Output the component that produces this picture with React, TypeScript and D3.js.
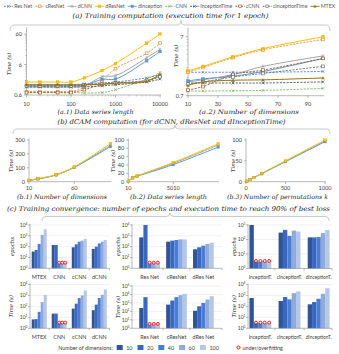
import React, { useEffect, useRef } from 'react';
import * as d3 from 'd3';

// ---------------- data ----------------
const seriesNames = ['ResNet', 'cResNet', 'dCNN', 'dResNet', 'dInception', 'CNN', 'InceptionTime', 'cCNN', 'cInceptionTime', 'MTEX'];
const legendLabels = ['Res Net', 'cResNet', 'dCNN', 'dResNet', 'dInception', 'CNN', 'InceptionTime', 'cCNN', 'cInceptionTime', 'MTEX'];

// (a.1) time per epoch vs data series length
const a1Lengths = [10, 20, 50, 100, 200, 500, 1000, 5000, 10000];
const a1ResNet = [1.3, 1.3, 1.3, 1.3, 1.4, 1.5, 1.6, 2.2, 2.8];
const a1cResNet = [0.77, 0.77, 0.77, 0.78, 1.05, 1.8, 4.4, 14, 30];
const a1dCNN = [1.1, 1.1, 1.1, 1.1, 1.2, 2.4, 2.6, 10, 19];
const a1dResNet = [1.6, 1.6, 1.6, 1.6, 2.2, 3.8, 6.5, 30, 60];
const a1dInception = [1.2, 1.2, 1.2, 1.2, 1.25, 1.95, 2.0, 8, 16];
const a1CNN = [0.75, 0.75, 0.75, 0.74, 0.7, 0.72, 0.9, 2.0, 3.3];
const a1InceptionTime = [1.1, 1.1, 1.1, 1.1, 1.1, 1.2, 1.3, 1.6, 2.0];
const a1cCNN = [0.72, 0.72, 0.72, 0.72, 0.9, 1.3, 1.5, 1.7, 2.5];
const a1cInceptionTime = [1.2, 1.2, 1.2, 1.2, 1.3, 1.4, 1.5, 1.8, 2.4];
const a1MTEX = [1.3, 1.3, 1.3, 1.3, 1.3, 1.35, 1.45, 1.7, 2.9];

// (a.2) time per epoch vs number of dimensions
const a2Dims = [10, 20, 40, 60, 100];
const a2ResNet = [1.75, 1.75, 1.75, 1.75, 1.8];
const a2cResNet = [1.75, 2.1, 3.1, 4.2, 6.3];
const a2dCNN = [1.2, 1.3, 1.6, 2.2, 3.3];
const a2dResNet = [1.85, 2.2, 3.2, 4.4, 7.0];
const a2dInception = [1.25, 1.35, 1.5, 1.8, 3.0];
const a2CNN = [0.84, 0.84, 0.85, 0.86, 0.93];
const a2InceptionTime = [1.15, 1.15, 1.15, 1.15, 1.2];
const a2cCNN = [0.87, 1.0, 1.6, 1.9, 3.0];
const a2cInceptionTime = [1.1, 1.2, 1.45, 1.67, 2.2];
const a2MTEX = [1.05, 1.2, 1.28, 1.3, 1.4];

// (b) dCAM computation
const b1Dims = [10, 20, 40, 60, 100];
const b1dCNN = [10, 21, 50, 105, 262];
const b1dResNet = [10, 22, 50, 107, 275];
const b1dInception = [9, 20, 48, 103, 253];
const b2Lengths = [10, 500, 1000, 5000, 10000];
const b2dCNN = [1, 10, 14, 44, 88];
const b2dResNet = [1, 10, 14, 46, 91];
const b2dInception = [1, 9, 13, 41, 83];
const b3Perms = [10, 50, 100, 200, 500, 1000];
const b3dCNN = [1, 5, 10, 20, 49, 98];
const b3dResNet = [1, 5, 10, 20, 50, 100];
const b3dInception = [1, 5, 10, 19, 48, 96];

// (c) convergence
const dimLabels = ['10', '20', '40', '60', '100'];
const c1Cats = ['MTEX', 'CNN', 'cCNN', 'dCNN'];
const c2Cats = ['Res Net', 'cResNet', 'dRes Net'];
const c3Cats = ['InceptionT.', 'cInceptionT.', 'dInceptionT.'];

const epMTEX = [35, 49, 177, 1200, 4000];
const epCNN = [142, 142, 3, 3, 3];
const epcCNN = [87, 164, 290, 360, 510];
const epdCNN = [61, 100, 200, 290, 410];
const epResNet = [720, 10000, 3, 3, 3];
const epcResNet = [290, 360, 410, 470, 470];
const epdResNet = [57, 87, 123, 177, 234];
const epInception = [1000, 3, 3, 3, 3];
const epcInception = [300, 460, 180, 415, 355];
const epdInception = [140, 140, 147, 275, 460];

const tMTEX = [6.5, 7, 32, 250, 1150];
const tCNN = [22, 22, 3, 3, 3];
const tcCNN = [63, 178, 580, 1000, 2800];
const tdCNN = [45, 145, 580, 1150, 3500];
const tResNet = [250, 4800, 3, 3, 3];
const tcResNet = [630, 1900, 4800, 8300, 12000];
const tdResNet = [120, 400, 1000, 2500, 6300];
const tInception = [580, 3, 3, 3, 3];
const tcInception = [310, 710, 440, 1620, 2300];
const tdInception = [155, 250, 500, 1400, 4600];

const underNone = [0, 0, 0, 0, 0];
const underCNN = [0, 0, 1, 1, 1];
const underResNet = [0, 0, 1, 1, 1];
const underInception = [0, 1, 1, 1, 1];

// ---------------- styles ----------------
const STYLE: Record<string, { color: string; dash: boolean; marker: string }> = {
  ResNet: { color: '#4472C4', dash: true, marker: 'x' },
  cResNet: { color: '#ED7D31', dash: true, marker: 'sqo' },
  dCNN: { color: '#A5A5A5', dash: false, marker: 'star' },
  dResNet: { color: '#FFC000', dash: false, marker: 'sq' },
  dInception: { color: '#5B9BD5', dash: false, marker: 'sq' },
  CNN: { color: '#70AD47', dash: true, marker: 'x' },
  InceptionTime: { color: '#264478', dash: true, marker: 'x' },
  cCNN: { color: '#9E480E', dash: true, marker: 'sqo' },
  cInceptionTime: { color: '#636363', dash: true, marker: 'sqo' },
  MTEX: { color: '#997300', dash: false, marker: 'tri' },
};
const BAR_COLORS = ['#2F5597', '#3A68BE', '#4A7ED6', '#8FAADC', '#B4C7E7'];
const SANS = 'Lato, "Open Sans", sans-serif';
const SERIF = '"DejaVu Serif", serif';
const AX = '#8C8C8C';
const TXT = '#404040';
const FS = 5.6;

type Sel = d3.Selection<SVGGElement, unknown, null, undefined>;

function marker(g: Sel, kind: string, x: number, y: number, color: string, s = 1.4) {
  if (kind === 'x' || kind === 'star') {
    let d = `M${x - s},${y - s}L${x + s},${y + s}M${x - s},${y + s}L${x + s},${y - s}`;
    if (kind === 'star') d += `M${x},${y - s * 1.2}L${x},${y + s * 1.2}`;
    g.append('path').attr('d', d).attr('stroke', color).attr('stroke-width', 0.6).attr('fill', 'none');
  } else if (kind === 'sq') {
    g.append('rect').attr('x', x - s).attr('y', y - s).attr('width', 2 * s).attr('height', 2 * s)
      .attr('fill', color).attr('stroke', d3.color(color)!.darker(0.4).toString()).attr('stroke-width', 0.3);
  } else if (kind === 'sqo') {
    g.append('rect').attr('x', x - s).attr('y', y - s).attr('width', 2 * s).attr('height', 2 * s)
      .attr('fill', '#fff').attr('stroke', color).attr('stroke-width', 0.6);
  } else {
    g.append('path').attr('d', `M${x},${y - s * 1.2}L${x + s * 1.2},${y + s}L${x - s * 1.2},${y + s}Z`).attr('fill', color);
  }
}

function line(g: Sel, x0: number, y0: number, x1: number, y1: number, color = AX, w = 0.6) {
  g.append('line').attr('x1', x0).attr('y1', y0).attr('x2', x1).attr('y2', y1).attr('stroke', color).attr('stroke-width', w);
}

function txt(g: Sel, x: number, y: number, s: string, anchor = 'middle', size = FS) {
  return g.append('text').attr('x', x).attr('y', y).attr('text-anchor', anchor).attr('font-family', SANS)
    .attr('font-size', size).attr('fill', TXT).text(s);
}

function itext(g: Sel, x: number, y: number, s: string, size: number, len?: number, rot = false) {
  const t = g.append('text').attr('font-family', SERIF).attr('font-style', 'italic').attr('font-size', size)
    .attr('fill', '#262626').attr('text-anchor', 'middle').text(s);
  if (rot) t.attr('transform', `translate(${x},${y}) rotate(-90)`);
  else t.attr('x', x).attr('y', y);
  if (len) t.attr('textLength', len).attr('lengthAdjust', 'spacingAndGlyphs');
  return t;
}

function powText(g: Sel, x: number, y: number, e: number, size = 5) {
  const t = g.append('text').attr('x', x).attr('y', y).attr('text-anchor', 'end').attr('font-family', SANS)
    .attr('font-size', size).attr('fill', TXT);
  t.append('tspan').text('10');
  t.append('tspan').attr('dy', -2).attr('font-size', size * 0.65).text(String(e));
}

function brace(g: Sel, x0: number, x1: number, xm: number, yTop: number, yMid: number, yBot: number) {
  const r = 4;
  const d = `M${x0},${yBot} Q${x0},${yMid} ${x0 + r},${yMid} L${xm - r},${yMid} Q${xm},${yMid} ${xm},${yTop} ` +
    `Q${xm},${yMid} ${xm + r},${yMid} L${x1 - r},${yMid} Q${x1},${yMid} ${x1},${yBot}`;
  g.append('path').attr('d', d).attr('fill', 'none').attr('stroke', '#A6A6A6').attr('stroke-width', 0.6);
}

function drawSeries(g: Sel, xs: number[], map: Record<string, number[]>, names: string[],
  xS: (v: number) => number, yS: (v: number) => number, ms = 1.4) {
  const gen = d3.line<number>().x((_, i) => xS(xs[i])).y(d => yS(d)).curve(d3.curveCatmullRom.alpha(0.5));
  names.forEach(n => {
    const st = STYLE[n];
    g.append('path').attr('d', gen(map[n])).attr('fill', 'none').attr('stroke', st.color)
      .attr('stroke-width', st.dash ? 0.8 : 1).attr('stroke-dasharray', st.dash ? '2.2,1.2' : null);
  });
  names.forEach(n => {
    const st = STYLE[n];
    map[n].forEach((v, i) => marker(g, st.marker, xS(xs[i]), yS(v), st.color, ms));
  });
}

function logMinor(lo: number, hi: number, bases: number[]) {
  const out: number[] = [];
  bases.forEach(b => { for (let k = 2; k <= 9; k++) { const v = b * k; if (v > lo && v < hi) out.push(v); } });
  return out;
}

function barPanel(g: Sel, cats: string[], vals: number[][], under: number[][], xr: [number, number],
  padIn: number, padOut: number, maxExp: number, yr: [number, number], labelY: number,
  title: string, titleX: number, labelSize = 5.4) {
  const x = d3.scaleBand<string>().domain(cats).range(xr).paddingInner(padIn).paddingOuter(padOut);
  const sub = d3.scaleBand<string>().domain(dimLabels).range([0, x.bandwidth()]);
  const y = d3.scaleLog().domain([1, Math.pow(10, maxExp)]).range(yr);
  const right = xr[1] + 1;
  for (let e = 1; e <= maxExp; e++) line(g, xr[0], y(Math.pow(10, e)), right, y(Math.pow(10, e)), '#E3E3E3', 0.5);
  for (let e = 0; e <= maxExp; e++) {
    line(g, xr[0] - 2, y(Math.pow(10, e)), xr[0], y(Math.pow(10, e)));
    powText(g, xr[0] - 2.5, y(Math.pow(10, e)) + 1.8, e);
  }
  cats.forEach((c, ci) => {
    vals[ci].forEach((v, di) => {
      const bx = x(c)! + sub(dimLabels[di])!;
      g.append('rect').attr('x', bx).attr('y', y(v)).attr('width', sub.bandwidth())
        .attr('height', yr[0] - y(v)).attr('fill', BAR_COLORS[di]);
    });
    txt(g, x(c)! + x.bandwidth() / 2, labelY, c, 'middle', labelSize);
  });
  cats.forEach((c, ci) => {
    under[ci].forEach((u, di) => {
      if (!u) return;
      const cx = x(c)! + sub(dimLabels[di])! + sub.bandwidth() / 2;
      g.append('circle').attr('cx', cx).attr('cy', y(vals[ci][di] * 1.1)).attr('r', 1.5)
        .attr('fill', '#FBE3E3').attr('stroke', '#E00000').attr('stroke-width', 0.8);
    });
  });
  line(g, xr[0], yr[0], right, yr[0]);
  line(g, xr[0], yr[0], xr[0], yr[1] - 1);
  const step = x.step();
  cats.forEach((c, ci) => {
    if (ci === 0) return;
    const bx = x(c)! - step * padIn / 2;
    line(g, bx, yr[0], bx, yr[0] + 2);
  });
  line(g, right, yr[0], right, yr[0] + 2);
  itext(g, titleX, (yr[0] + yr[1]) / 2, title, 5.4, undefined, true);
}

export default function App() {
  const ref = useRef<SVGSVGElement>(null);
  useEffect(() => {
    const svg = d3.select(ref.current!);
    svg.selectAll('*').remove();
    const g = svg.append('g') as unknown as Sel;

    // ---------- top legend ----------
    const lg = g.append('g');
    const lfs = 5.2;
    const widths: number[] = [];
    const texts = legendLabels.map(l => {
      const t = lg.append('text').attr('font-family', SANS).attr('font-size', lfs).attr('fill', '#595959').attr('y', 8).text(l);
      widths.push((t.node() as SVGTextElement).getComputedTextLength());
      return t;
    });
    const segW = 9, segGap = 1.2;
    const total = widths.reduce((a, b) => a + b, 0) + seriesNames.length * (segW + segGap);
    const gap = (331 - total) / (seriesNames.length - 1);
    let cx = 4;
    seriesNames.forEach((n, i) => {
      const st = STYLE[n];
      lg.append('line').attr('x1', cx).attr('x2', cx + segW).attr('y1', 6.3).attr('y2', 6.3).attr('stroke', st.color)
        .attr('stroke-width', 0.9).attr('stroke-dasharray', st.dash ? '1.8,1' : null);
      marker(lg as unknown as Sel, st.marker, cx + segW / 2, 6.3, st.color, 1.3);
      texts[i].attr('x', cx + segW + segGap);
      cx += segW + segGap + widths[i] + gap;
    });

    // ---------- (a) ----------
    itext(g, 170.5, 17.5, '(a) Training computation (execution time for 1 epoch)', 6.6, 196);
    brace(g, 10, 330, 181, 20.5, 25, 31);

    // a.1
    const a1Map: Record<string, number[]> = {
      ResNet: a1ResNet, cResNet: a1cResNet, dCNN: a1dCNN, dResNet: a1dResNet, dInception: a1dInception,
      CNN: a1CNN, InceptionTime: a1InceptionTime, cCNN: a1cCNN, cInceptionTime: a1cInceptionTime, MTEX: a1MTEX,
    };
    const a1x = d3.scaleLog().domain([10, 10000]).range([26.5, 160]);
    const a1y = d3.scaleLog().domain([0.6, 100]).range([95, 27.3]);
    line(g, 26.5, 27.3, 26.5, 95);
    line(g, 26.5, 95, 161, 95);
    [0.6, 6, 60].forEach(v => { line(g, 24, a1y(v), 26.5, a1y(v)); txt(g, 22, a1y(v) + 2, String(v), 'end'); });
    logMinor(0.6, 100, [0.6, 6, 60]).forEach(v => line(g, 25, a1y(v), 26.5, a1y(v), AX, 0.4));
    [10, 100, 1000, 10000].forEach(v => { line(g, a1x(v), 95, a1x(v), 97.5); txt(g, a1x(v), 105.5, String(v)); });
    logMinor(10, 10000, [10, 100, 1000]).forEach(v => line(g, a1x(v), 95, a1x(v), 96.5, AX, 0.4));
    drawSeries(g, a1Lengths, a1Map, seriesNames, a1x, a1y);
    itext(g, 11, 64, 'Time (s)', 5.4, undefined, true);
    itext(g, 95.5, 113.5, '(a.1) Data series length', 6.2, 76);

    // a.2
    const a2Map: Record<string, number[]> = {
      ResNet: a2ResNet, cResNet: a2cResNet, dCNN: a2dCNN, dResNet: a2dResNet, dInception: a2dInception,
      CNN: a2CNN, InceptionTime: a2InceptionTime, cCNN: a2cCNN, cInceptionTime: a2cInceptionTime, MTEX: a2MTEX,
    };
    const a2x = d3.scaleLinear().domain([10, 100]).range([188, 323]);
    const a2y = d3.scaleLog().domain([0.7, 10]).range([95.7, 27.6]);
    line(g, 188, 27.6, 188, 95.7);
    line(g, 188, 95.7, 324, 95.7);
    [0.7, 7].forEach(v => { line(g, 185.5, a2y(v), 188, a2y(v)); txt(g, 183.5, a2y(v) + 2, String(v), 'end'); });
    logMinor(0.7, 10, [0.7, 7]).forEach(v => line(g, 186.5, a2y(v), 188, a2y(v), AX, 0.4));
    [10, 30, 50, 70, 90].forEach(v => { line(g, a2x(v), 95.7, a2x(v), 98); txt(g, a2x(v), 105.5, String(v)); });
    drawSeries(g, a2Dims, a2Map, seriesNames, a2x, a2y);
    itext(g, 178, 56, 'Time (s)', 5.4, undefined, true);
    itext(g, 249, 113.5, '(a.2) Number of dimensions', 6.2, 100);

    // ---------- (b) ----------
    itext(g, 171.5, 123.5, '(b) dCAM computation (for dCNN, dResNet and dInceptionTime)', 6.6, 228);
    brace(g, 13, 330, 175, 125, 129, 134);

    const bPanel = (xs: number[], map: Record<string, number[]>, xd: [number, number], xr: [number, number],
      ymax: number, yTicks: number[], xTicks: number[], tX: number, label: string, labX: number, labW: number) => {
      const xS = d3.scaleLinear().domain(xd).range(xr);
      const yS = d3.scaleLinear().domain([0, ymax]).range([181.7, 140]);
      line(g, xr[0], 138.5, xr[0], 181.7);
      line(g, xr[0], 181.7, xr[1] + 1, 181.7);
      yTicks.forEach(v => { line(g, xr[0] - 2, yS(v), xr[0], yS(v)); txt(g, xr[0] - 4, yS(v) + 2, String(v), 'end'); });
      xTicks.forEach(v => { line(g, xS(v), 181.7, xS(v), 184); txt(g, xS(v), 190, String(v)); });
      drawSeries(g, xs, map, ['dCNN', 'dInception', 'dResNet'], xS, yS, 1.3);
      itext(g, tX, 161, 'Time (s)', 5.4, undefined, true);
      itext(g, labX, 198.5, label, 6.2, labW);
    };
    bPanel(b1Dims, { dCNN: b1dCNN, dResNet: b1dResNet, dInception: b1dInception }, [10, 100], [29, 110.5], 300,
      [0, 100, 200, 300], [10, 60], 12.5, '(b.1) Number of dimensions', 62, 90);
    bPanel(b2Lengths, { dCNN: b2dCNN, dResNet: b2dResNet, dInception: b2dInception }, [10, 10000], [128.3, 218.2], 100,
      [0, 20, 40, 60, 80, 100], [10, 5010], 114.5, '(b.2) Data series length', 168.5, 77);
    bPanel(b3Perms, { dCNN: b3dCNN, dResNet: b3dResNet, dInception: b3dInception }, [0, 1000], [246, 325], 100,
      [0, 50, 100], [0, 500, 1000], 234.5, '(b.3) Number of permutations k', 277.5, 101);

    // ---------- (c) ----------
    itext(g, 168.5, 211, '(c) Training convergence: number of epochs and execution time to reach 90% of best loss', 6.6, 323);
    brace(g, 42, 329, 170, 213, 216.5, 221);

    barPanel(g, c1Cats, [epMTEX, epCNN, epcCNN, epdCNN], [underNone, underCNN, underNone, underNone],
      [30, 108.5], 0.25, 0.085, 4, [268.3, 225], 278.5, 'epochs', 13.5);
    barPanel(g, c2Cats, [epResNet, epcResNet, epdResNet], [underResNet, underNone, underNone],
      [132, 221], 0.23, 0.27, 4, [268.3, 225], 278.5, 'epochs', 119.5);
    barPanel(g, c3Cats, [epInception, epcInception, epdInception], [underInception, underNone, underNone],
      [248, 331], 0.25, 0.05, 3, [268.5, 225], 278.5, 'epochs', 236, 4.9);

    barPanel(g, c1Cats, [tMTEX, tCNN, tcCNN, tdCNN], [underNone, underCNN, underNone, underNone],
      [30, 108.5], 0.25, 0.085, 4, [328.3, 284.5], 338.5, 'Time (s)', 12.5);
    barPanel(g, c2Cats, [tResNet, tcResNet, tdResNet], [underResNet, underNone, underNone],
      [132, 221], 0.23, 0.27, 5, [328.3, 286], 338.5, 'Time (s)', 119.5);
    barPanel(g, c3Cats, [tInception, tcInception, tdInception], [underInception, underNone, underNone],
      [248, 331], 0.25, 0.05, 4, [328.3, 284.5], 338.5, 'Time (s)', 236, 4.9);

    // bottom legend
    txt(g, 113, 349.5, 'Number of dimensions:', 'end', 5.4);
    dimLabels.forEach((d, i) => {
      const lx = 116.7 + i * 20.8;
      g.append('rect').attr('x', lx).attr('y', 345).attr('width', 6).attr('height', 5).attr('fill', BAR_COLORS[i]);
      txt(g, lx + 9.5, 349.5, d, 'start', 5.4);
    });
    g.append('circle').attr('cx', 238.5).attr('cy', 347.5).attr('r', 1.6).attr('fill', '#FBE3E3')
      .attr('stroke', '#E00000').attr('stroke-width', 0.8);
    txt(g, 242.5, 349.5, 'under/overfitting', 'start', 5.4);
  }, []);
  return <svg ref={ref} width={339} height={354} style={{ position: 'absolute', left: 0, top: 0, background: '#fff' }} />;
}
